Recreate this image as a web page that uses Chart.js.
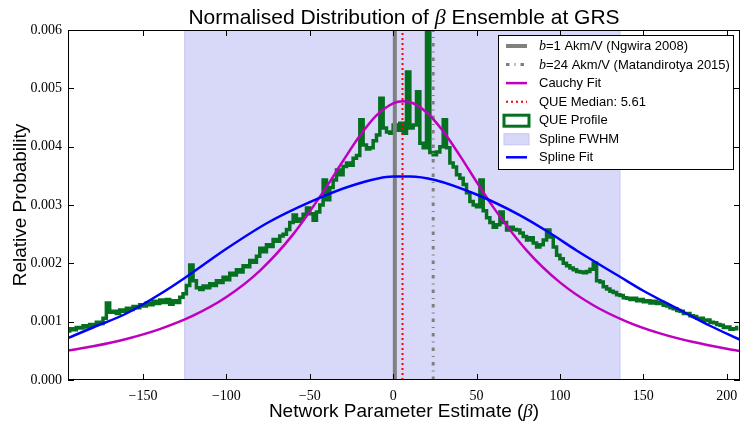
<!DOCTYPE html>
<html><head><meta charset="utf-8">
<script src="https://cdn.jsdelivr.net/npm/chart.js@4.4.1/dist/chart.umd.min.js"></script>
<style>html,body{margin:0;padding:0;background:#fff;}canvas{display:block;}</style>
</head><body>
<canvas id="c" width="741" height="422"></canvas>
<script>
// ---------- data ----------
const xMin = -195, xMax = 208;
const yMin = 0, yMax = 0.006;
const xTickStep = 50, yTickStep = 0.001;

const ngwiraB = 1;          // b=1 Akm/V
const matandirotyaB = 24;   // b=24 Akm/V
const queMedian = 5.61;
const fwhmLow = -125, fwhmHigh = 136;

const profileStart = -195, profileBin = 2;
const profileValues = [
 0.00084,0.00088,0.00086,0.00090,0.00089,0.00093,0.00091,0.00095,0.00094,0.00099,0.00097,0.00106,0.00132,
 0.00116,0.00118,0.00114,0.00120,0.00118,0.00123,0.00121,0.00126,0.00124,0.00129,0.00127,0.00132,0.00129,
 0.00135,0.00131,0.00137,0.00133,0.00138,0.00130,0.00136,0.00133,0.00142,0.00148,0.00162,0.00197,
 0.00170,0.00158,0.00155,0.00161,0.00158,0.00165,0.00162,0.00170,0.00167,0.00176,0.00172,0.00183,0.00180,
 0.00189,0.00185,0.00196,0.00194,0.00205,0.00202,0.00212,0.00226,0.00220,0.00232,0.00229,0.00241,0.00238,
 0.00247,0.00250,0.00258,0.00270,0.00283,0.00272,0.00276,0.00284,0.00295,0.00285,0.00274,0.00288,0.00300,0.00343,
 0.00309,0.00330,0.00343,0.00360,0.00352,0.00366,0.00372,0.00368,0.00380,0.00385,0.00446,0.00403,0.00396,
 0.00398,0.00410,0.00420,0.00483,0.00432,0.00425,0.00423,
 0.00437,0.00428,0.00440,0.00423,0.00528,0.00432,0.00437,0.00494,0.00406,0.00398,0.00597,0.00390,0.00386,
 0.00391,0.00400,0.00446,0.00398,0.00372,0.00365,0.00352,0.00346,0.00335,0.00321,0.00306,0.00300,0.00297,
 0.00343,0.00290,0.00278,0.00270,0.00262,0.00266,0.00288,0.00270,0.00257,0.00262,0.00258,0.00257,0.00252,
 0.00246,0.00240,0.00244,0.00235,0.00228,0.00232,0.00240,0.00257,0.00245,0.00228,0.00214,0.00208,0.00200,
 0.00196,0.00192,0.00189,0.00186,0.00185,0.00184,0.00186,0.00190,0.00200,
 0.00170,0.00168,0.00160,0.00156,0.00152,0.00150,0.00146,0.00145,0.00141,0.00140,0.00138,0.00140,0.00136,
 0.00138,0.00134,0.00136,0.00132,0.00135,0.00131,0.00133,0.00128,0.00127,0.00124,0.00122,0.00119,0.00118,
 0.00114,0.00114,0.00110,0.00109,0.00106,0.00106,0.00102,0.00103,0.00099,0.00098,0.00095,0.00094,0.00090,
 0.00091,0.00087,0.00088,0.00090
];

const cauchyX = [-195,-180,-160,-140,-120,-100,-80,-60,-40,-30,-20,-10,0,6,12,20,30,40,50,60,80,100,120,140,160,180,200,208];
const cauchyY = [0.000504,0.000578,0.000704,0.000873,0.001103,0.001423,0.001872,0.002496,0.003310,0.003758,
 0.004186,0.004536,0.004744,0.004780,0.004744,0.004590,0.004264,0.003846,0.003398,0.002964,0.002223,0.001674,
 0.001282,0.001002,0.000799,0.000650,0.000537,0.000499];

const splineX = [-195,-180,-160,-140,-125,-100,-75,-50,-25,0,10,25,50,75,94,110,136,150,172,190,208];
const splineY = [0.00072,0.00090,0.00114,0.00147,0.00175,0.00225,0.00270,0.00305,0.00333,0.00349,0.00349,
 0.00343,0.00318,0.00284,0.00252,0.00222,0.00177,0.00153,0.00120,0.00093,0.00069];

// ---------- styles ----------
const C_GRAY = '#808080', C_RED = '#ff0000', C_MAG = '#bf00bf', C_GREEN = '#05701f',
      C_BLUE = '#0000ff', C_BAND = '#d8d8f8', C_BAND_EDGE = '#c4c4f4';
const SANS = '"Liberation Sans", Arial, sans-serif';
const SERIF = '"Liberation Serif", "DejaVu Serif", serif';

const pts = (xs, ys) => xs.map((x, i) => ({x, y: ys[i]}));
const vline = x => [{x, y: yMin}, {x, y: yMax}];
const profileData = profileValues.map((v, i) => ({x: profileStart + i * profileBin, y: v}));

function drawRich(ctx, parts, x, y, align) {
  let w = 0;
  parts.forEach(p => { ctx.font = p[1]; w += ctx.measureText(p[0]).width; });
  let cx = align === 'center' ? x - w / 2 : x;
  ctx.textAlign = 'left';
  parts.forEach(p => { ctx.font = p[1]; ctx.fillText(p[0], cx, y); cx += ctx.measureText(p[0]).width; });
}

const legendItems = [
  {parts: [['b', 'italic 14px ' + SERIF], ['=1 Akm/V (Ngwira 2008)', '13px ' + SANS]], kind: 'line', color: C_GRAY, width: 4, dash: []},
  {parts: [['b', 'italic 14px ' + SERIF], ['=24 Akm/V (Matandirotya 2015)', '13px ' + SANS]], kind: 'line', color: C_GRAY, width: 3, dash: [3.5, 5, 1, 5]},
  {parts: [['Cauchy Fit', '13px ' + SANS]], kind: 'line', color: C_MAG, width: 2.5, dash: []},
  {parts: [['QUE Median: 5.61', '13px ' + SANS]], kind: 'line', color: C_RED, width: 2, dash: [2, 3]},
  {parts: [['QUE Profile', '13px ' + SANS]], kind: 'box', color: C_GREEN, fill: '#ffffff', width: 3},
  {parts: [['Spline FWHM', '13px ' + SANS]], kind: 'box', color: C_BAND_EDGE, fill: C_BAND, width: 1},
  {parts: [['Spline Fit', '13px ' + SANS]], kind: 'line', color: C_BLUE, width: 2.5, dash: []}
];

const decor = {
  id: 'decor',
  beforeDatasetsDraw(chart) {
    const {ctx, chartArea: a, scales: {x}} = chart;
    const l = x.getPixelForValue(fwhmLow), r = x.getPixelForValue(fwhmHigh);
    ctx.save();
    ctx.fillStyle = C_BAND;
    ctx.fillRect(l, a.top, r - l, a.bottom - a.top);
    ctx.strokeStyle = C_BAND_EDGE; ctx.lineWidth = 1;
    ctx.beginPath(); ctx.moveTo(l, a.top); ctx.lineTo(l, a.bottom); ctx.moveTo(r, a.top); ctx.lineTo(r, a.bottom); ctx.stroke();
    ctx.restore();
  },
  afterDatasetsDraw(chart) {
    const {ctx, chartArea: a, scales: {x, y}} = chart;
    ctx.save();
    ctx.strokeStyle = '#000'; ctx.lineWidth = 1;
    ctx.strokeRect(a.left + 0.5, a.top + 0.5, a.right - a.left - 1, a.bottom - a.top - 1);
    const TL = 6;
    ctx.beginPath();
    x.ticks.forEach(t => {
      const px = Math.round(x.getPixelForValue(t.value)) + 0.5;
      ctx.moveTo(px, a.bottom); ctx.lineTo(px, a.bottom - TL);
      ctx.moveTo(px, a.top); ctx.lineTo(px, a.top + TL);
    });
    y.ticks.forEach(t => {
      const py = Math.round(y.getPixelForValue(t.value)) + 0.5;
      ctx.moveTo(a.left, py); ctx.lineTo(a.left + TL, py);
      ctx.moveTo(a.right, py); ctx.lineTo(a.right - TL, py);
    });
    ctx.stroke();

    // legend
    const bx = 498.5, by = 35.5, bw = 235, bh = 134;
    ctx.fillStyle = '#fff'; ctx.fillRect(bx, by, bw, bh);
    ctx.strokeStyle = '#000'; ctx.lineWidth = 1; ctx.strokeRect(bx, by, bw, bh);
    legendItems.forEach((it, i) => {
      const cy = 46 + i * 18.55;
      ctx.save();
      if (it.kind === 'line') {
        ctx.strokeStyle = it.color; ctx.lineWidth = it.width; ctx.setLineDash(it.dash); ctx.lineCap = 'butt';
        ctx.beginPath(); ctx.moveTo(506, cy); ctx.lineTo(527, cy); ctx.stroke();
      } else {
        ctx.fillStyle = it.fill; ctx.fillRect(504, cy - 5, 25, 11);
        ctx.strokeStyle = it.color; ctx.lineWidth = it.width; ctx.strokeRect(504, cy - 5, 25, 11);
      }
      ctx.restore();
      ctx.fillStyle = '#000'; ctx.textBaseline = 'middle';
      drawRich(ctx, it.parts, 539, cy + 0.5, 'left');
    });

    // title and axis labels
    ctx.fillStyle = '#000'; ctx.textBaseline = 'alphabetic';
    const cx = (a.left + a.right) / 2;
    drawRich(ctx, [['Normalised Distribution of ', '21px ' + SANS], ['\u03b2', 'italic 22px ' + SERIF], [' Ensemble at GRS', '21px ' + SANS]], cx, 24, 'center');
    drawRich(ctx, [['Network Parameter Estimate (', '19px ' + SANS], ['\u03b2', 'italic 19px ' + SERIF], [')', '19px ' + SANS]], cx, 417, 'center');
    ctx.save();
    ctx.translate(26, (a.top + a.bottom) / 2);
    ctx.rotate(-Math.PI / 2);
    drawRich(ctx, [['Relative Probability', '19px ' + SANS]], 0, 0, 'center');
    ctx.restore();
    ctx.restore();
  }
};

new Chart(document.getElementById('c'), {
  type: 'line',
  data: {
    datasets: [
      {label: 'b=1 Akm/V (Ngwira 2008)', data: vline(ngwiraB), borderColor: C_GRAY, borderWidth: 4, order: 5},
      {label: 'b=24 Akm/V (Matandirotya 2015)', data: vline(matandirotyaB), borderColor: C_GRAY, borderWidth: 3, borderDash: [3.5, 5, 1, 5], order: 4},
      {label: 'QUE Profile', data: profileData, borderColor: C_GREEN, borderWidth: 3.5, stepped: 'middle', order: 6},
      {label: 'Cauchy Fit', data: pts(cauchyX, cauchyY), borderColor: C_MAG, borderWidth: 2.5, cubicInterpolationMode: 'monotone', order: 2},
      {label: 'QUE Median: 5.61', data: vline(queMedian), borderColor: C_RED, borderWidth: 2, borderDash: [2, 3], order: 3},
      {label: 'Spline Fit', data: pts(splineX, splineY), borderColor: C_BLUE, borderWidth: 2.5, cubicInterpolationMode: 'monotone', order: 1}
    ]
  },
  options: {
    responsive: false, animation: false, devicePixelRatio: 1,
    layout: {padding: {top: 30, right: 1, left: 0, bottom: 0}},
    elements: {point: {radius: 0, hoverRadius: 0}, line: {fill: false, borderCapStyle: 'butt'}},
    plugins: {legend: {display: false}, tooltip: {enabled: false}, title: {display: false}},
    events: [],
    scales: {
      x: {
        type: 'linear', min: xMin, max: xMax,
        grid: {display: false, drawTicks: false}, border: {display: false},
        afterFit: s => { s.height = 42; s.paddingLeft = 0; s.paddingRight = 0; },
        ticks: {stepSize: xTickStep, includeBounds: false, padding: 8, color: '#000', maxRotation: 0,
          font: {family: SERIF, size: 14},
          callback: v => (v < 0 ? '\u2212' + Math.abs(v) : String(v))}
      },
      y: {
        type: 'linear', min: yMin, max: yMax,
        grid: {display: false, drawTicks: false}, border: {display: false},
        afterFit: s => { s.width = 68; s.paddingTop = 0; s.paddingBottom = 0; },
        ticks: {stepSize: yTickStep, padding: 6, color: '#000', font: {family: SERIF, size: 14},
          callback: v => Number(v).toFixed(3)}
      }
    }
  },
  plugins: [decor]
});
</script>
</body></html>
